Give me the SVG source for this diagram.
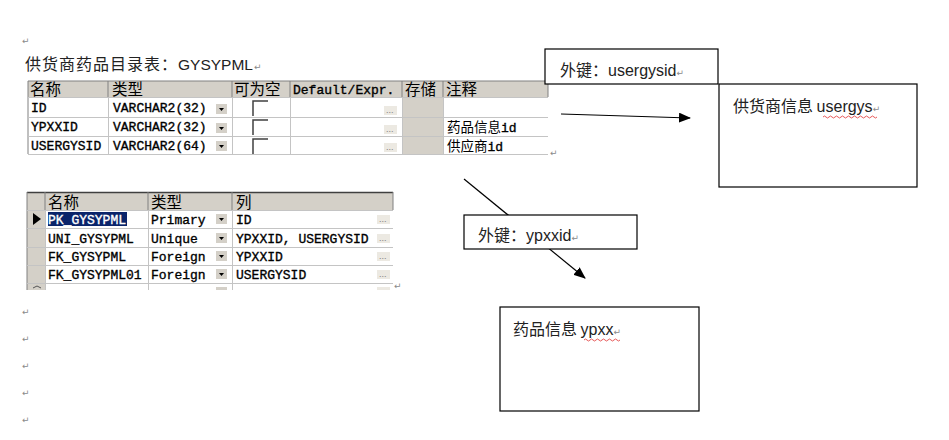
<svg xmlns="http://www.w3.org/2000/svg" width="949" height="440" viewBox="0 0 949 440">
<defs>
<style>
.cjk{font-family:"Noto Sans CJK SC","Noto Sans",sans-serif;}
.mono{font-family:"Liberation Mono","Noto Sans CJK SC",monospace;font-size:13px;fill:#000;stroke:#000;stroke-width:0.35;}
.hd{font-family:"Noto Sans CJK SC",sans-serif;font-size:15.5px;fill:#000;}
.lat{font-family:"Liberation Sans","Noto Sans CJK SC",sans-serif;}
.pm{font-family:"DejaVu Sans",sans-serif;font-size:9px;fill:#8a8a8a;stroke:none;}
.hdr{fill:#d4d0c8;}
.grid{stroke:#c4c4c4;stroke-width:1;fill:none;}
.sep{stroke:#808080;stroke-width:1;}
.box{fill:#fff;stroke:#000;stroke-width:1.2;}
.btn{fill:#ece9e2;stroke:none;}
.dots{font-family:"Liberation Sans",sans-serif;font-size:9px;fill:#808080;}
.dd{fill:#d4d0c8;}
.cb{fill:#fff;}
.ln{stroke:#000;stroke-width:1.2;fill:none;}
</style>
<marker id="ah" markerWidth="12" markerHeight="10" refX="11" refY="5" orient="auto" markerUnits="userSpaceOnUse">
<path d="M0,0 L12,5 L0,10 Z" fill="#000"/>
</marker>
<g id="ddbtn"><rect class="dd" x="0" y="0" width="11" height="10"/><path d="M3,4 L8,4 L5.5,7 Z" fill="#000"/></g>
<g id="dotbtn"><rect class="btn" x="0" y="0" width="13" height="9"/><text class="dots" x="2" y="7">...</text></g>
<g id="chk"><rect class="cb" x="0" y="0" width="15" height="15"/><path d="M0,15 L0,0 L15,0" stroke="#404040" stroke-width="1.5" fill="none"/></g>
</defs>
<rect width="949" height="440" fill="#fff"/>

<!-- paragraph marks -->
<g id="marks">
<text class="pm" x="22" y="44">↵</text>
<text class="pm" x="22" y="315">↵</text>
<text class="pm" x="22" y="342">↵</text>
<text class="pm" x="22" y="369">↵</text>
<text class="pm" x="22" y="396">↵</text>
<text class="pm" x="22" y="423">↵</text>
<text class="pm" x="550" y="156">↵</text>
<text class="pm" x="394" y="289">↵</text>
</g>

<!-- title -->
<g id="title">
<text x="25" y="70" font-size="16" fill="#222"><tspan class="cjk" letter-spacing="1">供货商药品目录表：</tspan><tspan class="lat" font-size="15.5">GYSYPML</tspan><tspan class="pm" dx="1">↵</tspan></text>
</g>

<!-- top table -->
<g id="table-columns">
<rect x="28" y="81" width="520" height="73" fill="#fff"/>
<rect class="hdr" x="28" y="81" width="520" height="16"/>
<rect class="hdr" x="403" y="97" width="40" height="57"/>
<line class="sep" x1="28" y1="81" x2="548" y2="81"/>
<line class="sep" x1="28" y1="81" x2="28" y2="154"/>
<g class="sep">
<line x1="108" y1="81" x2="108" y2="97"/>
<line x1="232" y1="81" x2="232" y2="97"/>
<line x1="290" y1="81" x2="290" y2="97"/>
<line x1="402" y1="81" x2="402" y2="97"/>
<line x1="443" y1="81" x2="443" y2="97"/>
<line x1="548" y1="81" x2="548" y2="97"/>
</g>
<g class="grid">
<line x1="28" y1="97.5" x2="548" y2="97.5"/>
<line x1="28" y1="117.5" x2="548" y2="117.5"/>
<line x1="28" y1="136.5" x2="548" y2="136.5"/>
<line x1="28" y1="154.5" x2="548" y2="154.5"/>
<line x1="108.5" y1="97" x2="108.5" y2="154"/>
<line x1="232.5" y1="97" x2="232.5" y2="154"/>
<line x1="290.5" y1="97" x2="290.5" y2="154"/>
<line x1="402.5" y1="97" x2="402.5" y2="154"/>
<line x1="443.5" y1="97" x2="443.5" y2="154"/>
</g>
<text class="hd" x="30" y="95">名称</text>
<text class="hd" x="112" y="95">类型</text>
<text class="hd" x="234" y="95">可为空</text>
<text class="mono" x="293" y="94">Default/Expr.</text>
<text class="hd" x="405" y="95">存储</text>
<text class="hd" x="446" y="95">注释</text>

<text class="mono" x="31" y="112">ID</text>
<text class="mono" x="31" y="131">YPXXID</text>
<text class="mono" x="31" y="150">USERGYSID</text>
<text class="mono" x="113" y="112">VARCHAR2(32)</text>
<text class="mono" x="113" y="131">VARCHAR2(32)</text>
<text class="mono" x="113" y="150">VARCHAR2(64)</text>
<use href="#ddbtn" x="216" y="104"/>
<use href="#ddbtn" x="216" y="123"/>
<use href="#ddbtn" x="216" y="141"/>
<use href="#chk" x="253" y="101"/>
<use href="#chk" x="253" y="120"/>
<use href="#chk" x="253" y="139"/>
<use href="#dotbtn" x="384" y="106"/>
<use href="#dotbtn" x="384" y="125"/>
<use href="#dotbtn" x="384" y="143"/>
<text x="447" y="131.5"><tspan class="hd" style="font-size:13.5px">药品信息</tspan><tspan class="mono">id</tspan></text>
<text x="447" y="150.5"><tspan class="hd" style="font-size:13.5px">供应商</tspan><tspan class="mono">id</tspan></text>
</g>

<!-- bottom table -->
<g id="table-constraints">
<rect x="27" y="192" width="366" height="98" fill="#fff"/>
<rect class="hdr" x="27" y="192" width="366" height="18"/>
<rect class="hdr" x="27" y="210" width="18" height="80"/>
<line x1="27" y1="192.5" x2="393" y2="192.5" stroke="#404040" stroke-width="1.5"/>
<line class="sep" x1="27" y1="192" x2="27" y2="290"/>
<g class="sep">
<line x1="45" y1="192" x2="45" y2="210"/>
<line x1="148" y1="192" x2="148" y2="210"/>
<line x1="232" y1="192" x2="232" y2="210"/>
<line x1="393" y1="192" x2="393" y2="210"/>
</g>
<g class="grid">
<line x1="27" y1="210.5" x2="393" y2="210.5"/>
<line x1="27" y1="228.5" x2="393" y2="228.5"/>
<line x1="27" y1="247.5" x2="393" y2="247.5"/>
<line x1="27" y1="265.5" x2="393" y2="265.5"/>
<line x1="27" y1="283.5" x2="393" y2="283.5"/>
<line x1="45.5" y1="210" x2="45.5" y2="290"/>
<line x1="148.5" y1="210" x2="148.5" y2="290"/>
<line x1="232.5" y1="210" x2="232.5" y2="290"/>
</g>
<text class="hd" x="48" y="208">名称</text>
<text class="hd" x="151" y="208">类型</text>
<text class="hd" x="236" y="208">列</text>
<path d="M33,213 L41,219 L33,225 Z" fill="#000"/>
<rect x="48" y="212" width="79" height="14" fill="#0a246a"/>
<text class="mono" x="48" y="224" style="fill:#fff;stroke:#fff">PK_GYSYPML</text>
<text class="mono" x="48" y="243">UNI_GYSYPML</text>
<text class="mono" x="48" y="261">FK_GYSYPML</text>
<text class="mono" x="48" y="279">FK_GYSYPML01</text>
<text class="mono" x="151" y="224">Primary</text>
<text class="mono" x="151" y="243">Unique</text>
<text class="mono" x="151" y="261">Foreign</text>
<text class="mono" x="151" y="279">Foreign</text>
<use href="#ddbtn" x="216" y="214"/>
<use href="#ddbtn" x="216" y="233"/>
<use href="#ddbtn" x="216" y="251"/>
<use href="#ddbtn" x="216" y="269"/>
<text class="mono" x="236" y="224">ID</text>
<text class="mono" x="236" y="243">YPXXID, USERGYSID</text>
<text class="mono" x="236" y="261">YPXXID</text>
<text class="mono" x="236" y="279">USERGYSID</text>
<use href="#dotbtn" x="377" y="215"/>
<use href="#dotbtn" x="377" y="234"/>
<use href="#dotbtn" x="377" y="252"/>
<use href="#dotbtn" x="377" y="270"/>
<rect class="dd" x="216" y="287" width="11" height="3"/>
<rect class="btn" x="377" y="287" width="13" height="3"/>
<path d="M33,288 L37,286 L41,288" stroke="#555" fill="none"/>
</g>

<!-- connectors -->
<g id="connectors">
<line class="ln" x1="561" y1="114" x2="690" y2="118" marker-end="url(#ah)"/>
<line class="ln" x1="464" y1="179" x2="585" y2="278" marker-end="url(#ah)"/>
</g>

<!-- nodes -->
<g id="fk-usergysid">
<rect class="box" x="545" y="49" width="173" height="35"/>
<text x="560" y="76" font-size="16" fill="#222"><tspan class="cjk">外键：</tspan><tspan class="lat">usergysid</tspan><tspan class="pm">↵</tspan></text>
</g>
<g id="usergys">
<rect class="box" x="719" y="84" width="198" height="103"/>
<text x="733" y="112" font-size="16" fill="#222"><tspan class="cjk">供货商信息 </tspan><tspan class="lat">usergys</tspan><tspan class="pm">↵</tspan></text>
<path d="M823,117 q1.5,-2 3,0 t3,0 t3,0 t3,0 t3,0 t3,0 t3,0 t3,0 t3,0 t3,0 t3,0 t3,0 t3,0 t3,0 t3,0 t3,0 t3,0 t3,0" stroke="#e03030" stroke-width="0.8" fill="none"/>
</g>
<g id="fk-ypxxid">
<rect class="box" x="464" y="215" width="173" height="34"/>
<text x="478" y="241" font-size="16" fill="#222"><tspan class="cjk">外键：</tspan><tspan class="lat">ypxxid</tspan><tspan class="pm">↵</tspan></text>
</g>
<g id="ypxx">
<rect class="box" x="500" y="307" width="199" height="104"/>
<text x="513" y="335" font-size="16" fill="#222"><tspan class="cjk">药品信息 </tspan><tspan class="lat">ypxx</tspan><tspan class="pm">↵</tspan></text>
<path d="M584,340 q1.5,-2 3,0 t3,0 t3,0 t3,0 t3,0 t3,0 t3,0 t3,0 t3,0 t3,0 t3,0 t3,0" stroke="#e03030" stroke-width="0.8" fill="none"/>
</g>
</svg>
